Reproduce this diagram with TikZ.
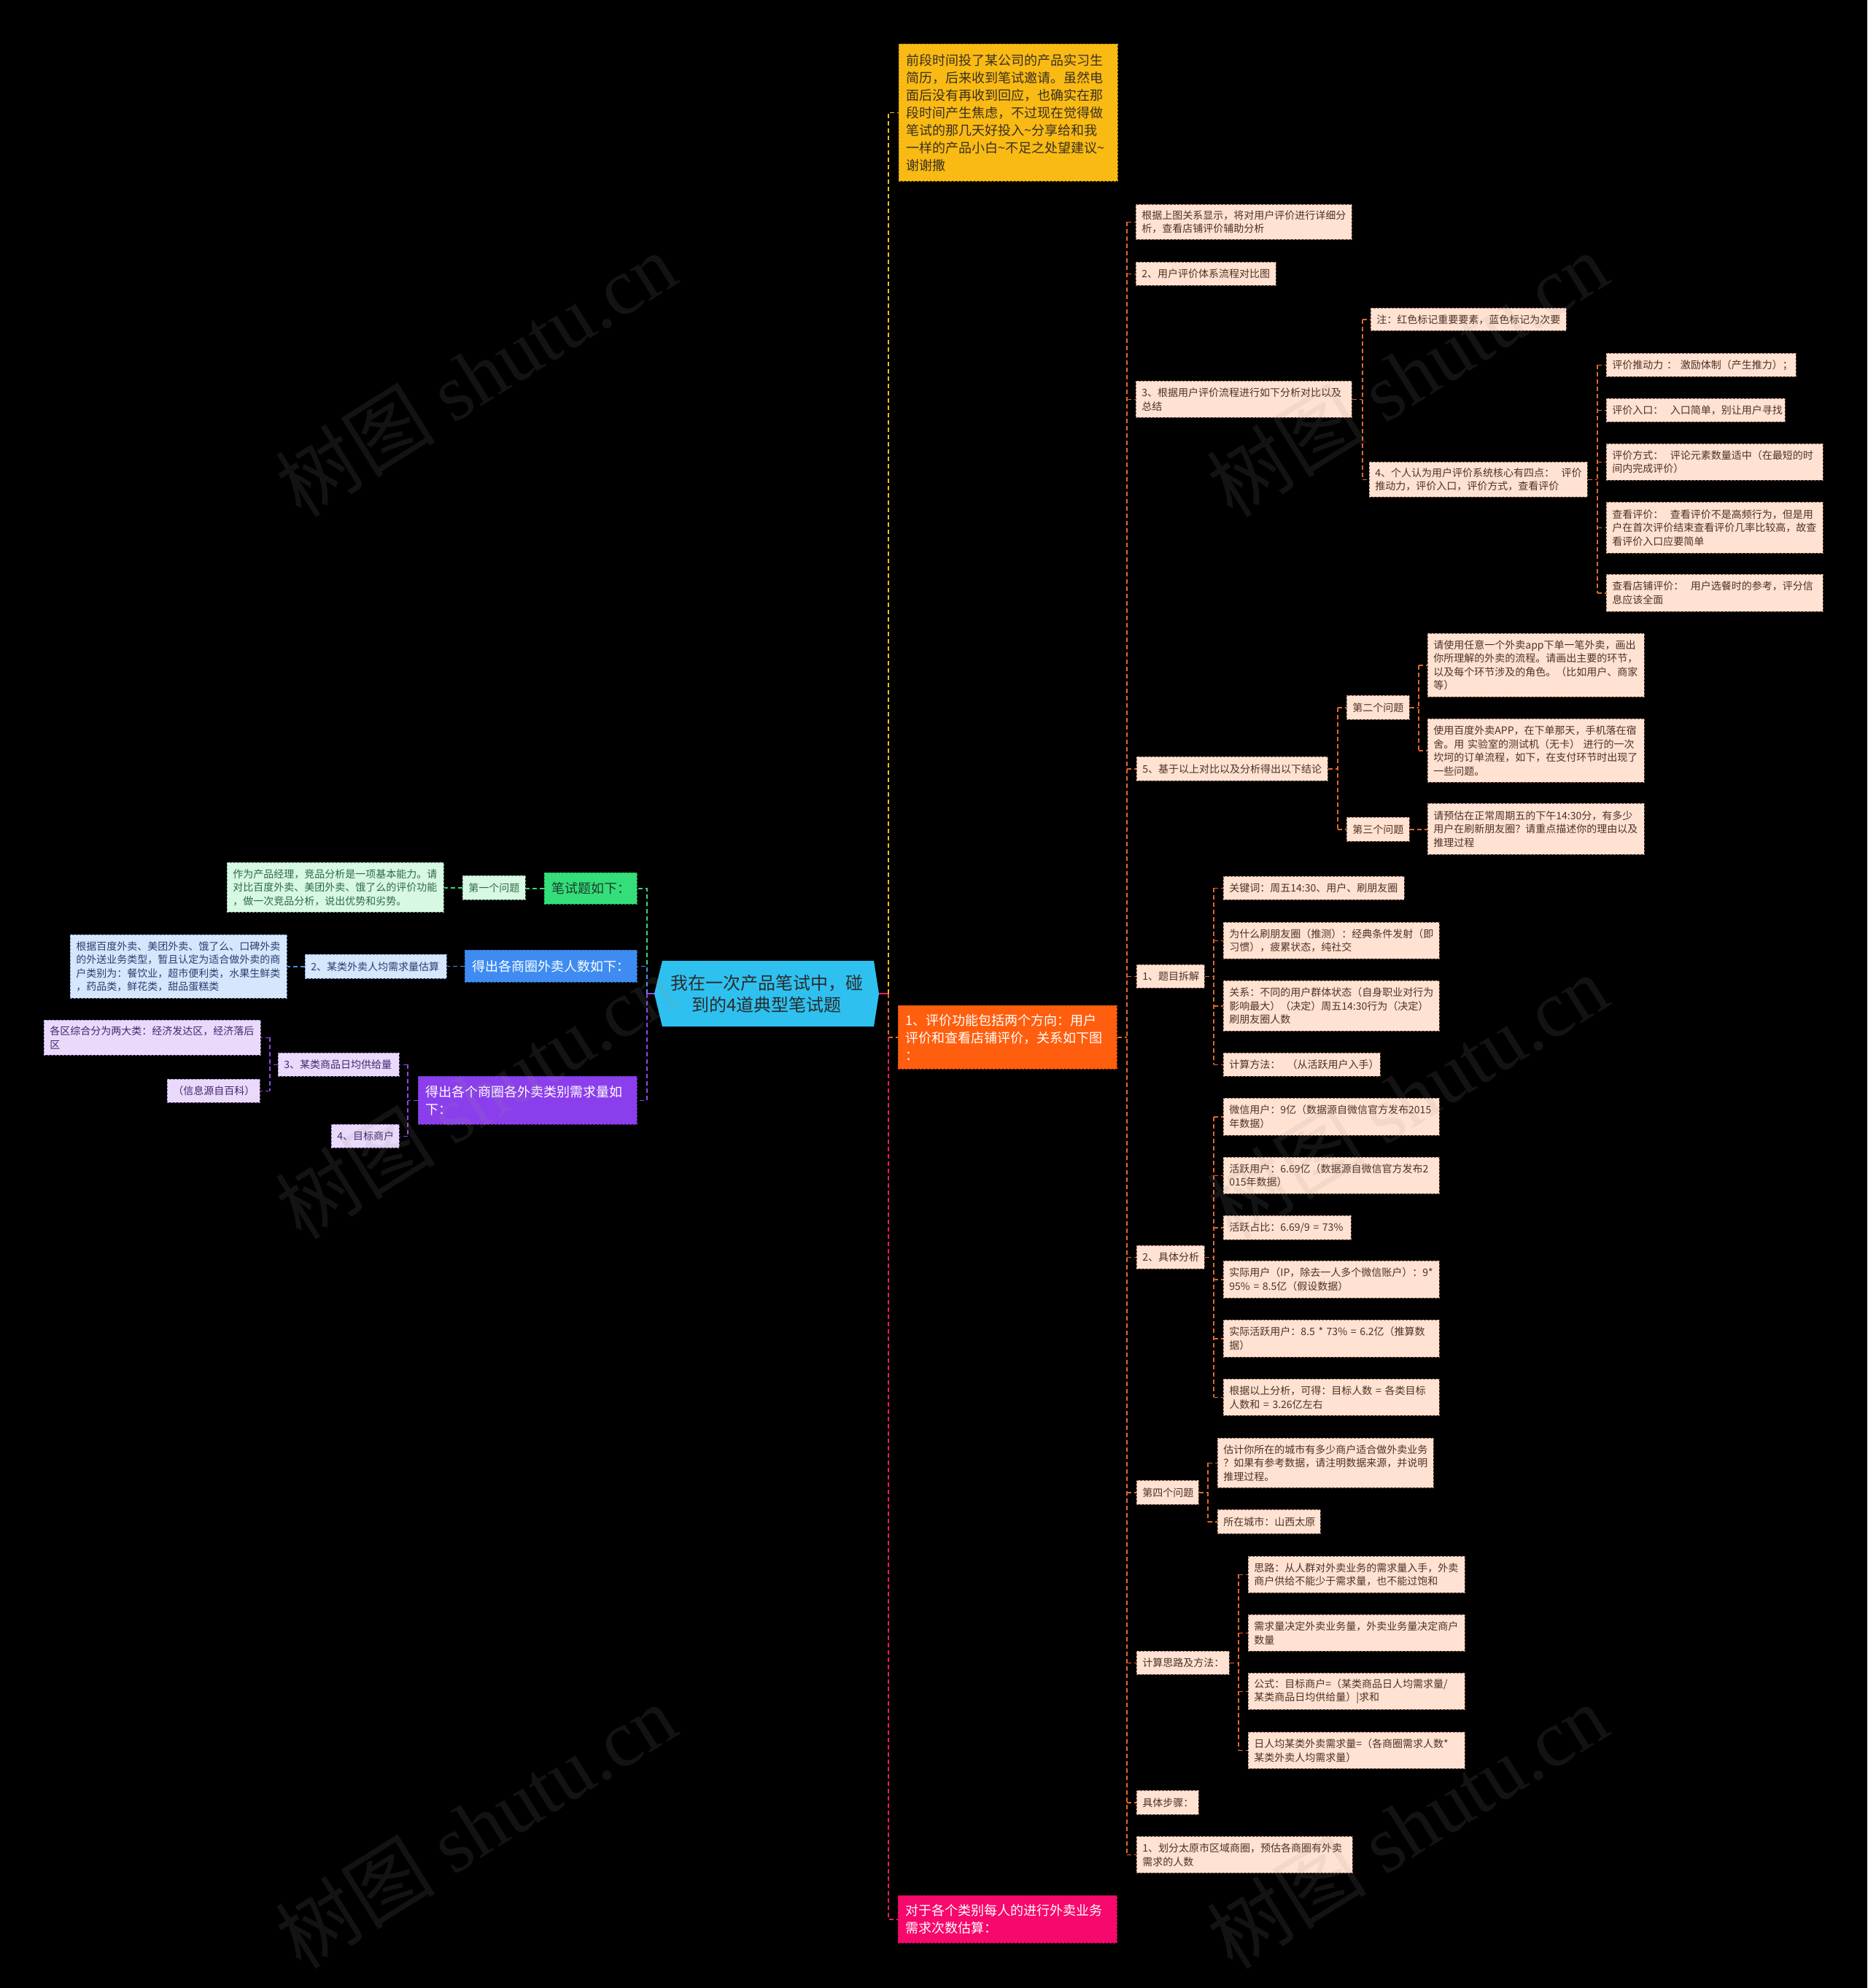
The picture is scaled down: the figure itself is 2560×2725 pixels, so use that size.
\documentclass[tikz,border=0pt]{standalone}
\usepackage{fontspec}
\newfontfamily\cjk{Noto Sans CJK SC}
\newfontfamily\wmlat{Liberation Serif}
\usetikzlibrary{calc}
\definecolor{rootc}{HTML}{2EC1F0}
\definecolor{roott}{HTML}{2B2B2B}
\definecolor{yel}{HTML}{F9BA14}
\definecolor{yelt}{HTML}{3A3020}
\definecolor{ora}{HTML}{FF5E0E}
\definecolor{pnk}{HTML}{F7086C}
\definecolor{grn}{HTML}{34DF7B}
\definecolor{grnt}{HTML}{1E3A28}
\definecolor{lgrn}{HTML}{D7F8E3}
\definecolor{lgrnt}{HTML}{2E6B47}
\definecolor{lgrnb}{HTML}{6F9F80}
\definecolor{blu}{HTML}{3E8CF2}
\definecolor{lblu}{HTML}{D5E6FD}
\definecolor{lblut}{HTML}{2A3F6E}
\definecolor{lblub}{HTML}{7090C0}
\definecolor{pur}{HTML}{8B3EEC}
\definecolor{lpur}{HTML}{E9DAFB}
\definecolor{lpurt}{HTML}{42276E}
\definecolor{lpurb}{HTML}{9070B0}
\definecolor{peach}{HTML}{FFE2D1}
\definecolor{ptext}{HTML}{4E3228}
\definecolor{pbord}{HTML}{8A6050}
\definecolor{oline}{HTML}{E0682C}
\definecolor{gline}{HTML}{36D67A}
\definecolor{bline}{HTML}{4C8EE6}
\definecolor{uline}{HTML}{8F48E6}
\definecolor{yline}{HTML}{F0C020}
\definecolor{kline}{HTML}{EC1A70}
\definecolor{wm}{gray}{0.6}
\begin{document}
\begin{tikzpicture}[x=1pt,y=-1pt,
  base/.style={rectangle, anchor=north west, align=left, inner ysep=0pt,
    line width=0.8pt, dash pattern=on 3pt off 2pt},
  small/.style={base, inner xsep=8pt, font=\cjk\fontsize{14}{18.5}\selectfont},
  pbox/.style={small, fill=peach, draw=pbord, text=ptext},
  gbox/.style={small, fill=lgrn, draw=lgrnb, text=lgrnt},
  bbox/.style={small, fill=lblu, draw=lblub, text=lblut},
  ubox/.style={small, fill=lpur, draw=lpurb, text=lpurt},
  big/.style={base, inner xsep=10pt, font=\cjk\fontsize{18}{24}\selectfont},
  con/.style={line width=1.5pt, dash pattern=on 6pt off 4pt},
  ocon/.style={con, draw=oline},
  gcon/.style={con, draw=gline},
  bcon/.style={con, draw=bline},
  ucon/.style={con, draw=uline},
  ycon/.style={con, draw=yline},
  kcon/.style={con, draw=kline}]
\useasboundingbox (0,0) rectangle (2560,2725);
\fill[black] (0,0) rectangle (2560,2725);

% trunk coordinates
\coordinate (LT) at (887,0);
\coordinate (PT) at (559,0);
\coordinate (P3T) at (370,0);
\coordinate (RT) at (1218,0);
\coordinate (OT) at (1545,0);
\coordinate (CT) at (1868,0);
\coordinate (C2T) at (2190,0);
\coordinate (DT) at (1834,0);
\coordinate (Q2T) at (1945,0);
\coordinate (ET) at (1664,0);
\coordinate (GT) at (1656,0);
\coordinate (HT) at (1698,0);

% root
\fill[rootc] (897,1362) -- (908,1317) -- (1198,1317) -- (1205,1362) -- (1198,1407) -- (908,1407) -- cycle;
\node[minimum width=308pt, minimum height=90pt, inner sep=0pt, align=center, text=roott,
  font=\cjk\fontsize{24}{30}\selectfont] (root) at (1051,1362) {我在一次产品笔试中，碰\\到的4道典型笔试题};

% ---------- left side ----------
\node[big, fill=grn, draw=grn!70!black, text=grnt, text width=107pt, minimum height=43pt] (G) at (746,1196) {笔试题如下：};
\node[gbox, text width=70pt, minimum height=33pt] (L1) at (634,1200) {第一个问题};
\node[gbox, text width=281pt, minimum height=68pt] (L1a) at (311,1182) {作为产品经理，竞品分析是一项基本能力。请\\对比百度外卖、美团外卖、饿了么的评价功能\\，做一次竞品分析，说出优势和劣势。};

\node[big, fill=blu, draw=blu!70!black, text=white, text width=216pt, minimum height=44pt] (B) at (637,1302) {得出各商圈外卖人数如下：};
\node[bbox, text width=178pt, minimum height=33pt] (L2) at (418,1308) {2、某类外卖人均需求量估算};
\node[bbox, text width=281pt, minimum height=87pt] (L2a) at (96,1281) {根据百度外卖、美团外卖、饿了么、口碑外卖\\的外送业务类型，暂且认定为适合做外卖的商\\户类别为：餐饮业，超市便利类，水果生鲜类\\，药品类，鲜花类，甜品蛋糕类};

\node[big, fill=pur, draw=pur!70!black, text=white, text width=280pt, minimum height=66pt] (U) at (573,1475) {得出各个商圈各外卖类别需求量如\\下：};
\node[ubox, text width=150pt, minimum height=32pt] (L3) at (381,1443) {3、某类商品日均供给量};
\node[ubox, text width=281pt, minimum height=48pt] (L3a) at (60,1398) {各区综合分为两大类：经济发达区，经济落后\\区};
\node[ubox, text width=111pt, minimum height=32pt] (L3b) at (229,1479) {（信息源自百科）};
\node[ubox, text width=77pt, minimum height=32pt] (L4) at (454,1541) {4、目标商户};

% ---------- right level 1 ----------
\node[big, fill=yel, draw=yel!75!black, text=yelt, text width=280pt, minimum height=188pt] (Y) at (1232,60) {前段时间投了某公司的产品实习生\\简历，后来收到笔试邀请。虽然电\\面后没有再收到回应，也确实在那\\段时间产生焦虑，不过现在觉得做\\笔试的那几天好投入\textasciitilde 分享给和我\\一样的产品小白\textasciitilde 不足之处望建议\textasciitilde\\谢谢撒};
\node[big, fill=ora, draw=ora!75!black, text=white, text width=280pt, minimum height=87pt] (O) at (1231,1378) {1、评价功能包括两个方向：用户\\评价和查看店铺评价，关系如下图\\：};
\node[big, fill=pnk, draw=pnk!75!black, text=white, text width=280pt, minimum height=65pt] (P) at (1231,2598) {对于各个类别每人的进行外卖业务\\需求次数估算：};

% ---------- orange branch ----------
\node[pbox, text width=280pt, minimum height=48pt] (a) at (1557,280) {根据上图关系显示，将对用户评价进行详细分\\析，查看店铺评价辅助分析};
\node[pbox, text width=176pt, minimum height=32pt] (b) at (1557,359) {2、用户评价体系流程对比图};
\node[pbox, text width=280pt, minimum height=50pt] (c) at (1557,522) {3、根据用户评价流程进行如下分析对比以及\\总结};
\node[pbox, text width=252pt, minimum height=31pt] (c1) at (1879,422) {注：红色标记重要要素，蓝色标记为次要};
\node[pbox, text width=283pt, minimum height=48pt] (c2) at (1877,633) {4、个人认为用户评价系统核心有四点：~~评价\\推动力，评价入口，评价方式，查看评价};
\node[pbox, text width=244pt, minimum height=32pt] (k1) at (2202,484) {评价推动力~：~激励体制（产生推力）；};
\node[pbox, text width=229pt, minimum height=32pt] (k2) at (2202,546) {评价入口：~~入口简单，别让用户寻找};
\node[pbox, text width=281pt, minimum height=50pt] (k3) at (2202,608) {评价方式：~~评论元素数量适中（在最短的时\\间内完成评价）};
\node[pbox, text width=281pt, minimum height=70pt] (k4) at (2202,688) {查看评价：~~查看评价不是高频行为，但是用\\户在首次评价结束查看评价几率比较高，故查\\看评价入口应要简单};
\node[pbox, text width=281pt, minimum height=51pt] (k5) at (2202,787) {查看店铺评价：~~用户选餐时的参考，评分信\\息应该全面};

\node[pbox, text width=246pt, minimum height=33pt] (d) at (1558,1037) {5、基于以上对比以及分析得出以下结论};
\node[pbox, text width=70pt, minimum height=33pt] (q2) at (1846,953) {第二个问题};
\node[pbox, text width=70pt, minimum height=33pt] (q3) at (1846,1120) {第三个问题};
\node[pbox, text width=281pt, minimum height=87pt] (q2a) at (1957,868) {请使用任意一个外卖app下单一笔外卖，画出\\你所理解的外卖的流程。请画出主要的环节，\\以及每个环节涉及的角色。（比如用户、商家\\等）};
\node[pbox, text width=281pt, minimum height=87pt] (q2b) at (1957,985) {使用百度外卖APP，在下单那天，手机落在宿\\舍。用~实验室的测试机（无卡）~进行的一次\\坎坷的订单流程，如下，在支付环节时出现了\\一些问题。};
\node[pbox, text width=281pt, minimum height=70pt] (q3a) at (1957,1101) {请预估在正常周期五的下午14:30分，有多少\\用户在刷新朋友圈？请重点描述你的理由以及\\推理过程};

\node[pbox, text width=77pt, minimum height=32pt] (e) at (1558,1322) {1、题目拆解};
\node[pbox, text width=232pt, minimum height=32pt] (e1) at (1677,1201) {关键词：周五14:30、用户、刷朋友圈};
\node[pbox, text width=280pt, minimum height=50pt] (e2) at (1677,1264) {为什么刷朋友圈（推测）：经典条件发射（即\\习惯），疲累状态，纯社交};
\node[pbox, text width=280pt, minimum height=69pt] (e3) at (1677,1344) {关系：不同的用户群体状态（自身职业对行为\\影响最大）（决定）周五14:30行为（决定）\\刷朋友圈人数};
\node[pbox, text width=199pt, minimum height=32pt] (e4) at (1677,1443) {计算方法：~~（从活跃用户入手）};

\node[pbox, text width=77pt, minimum height=32pt] (f) at (1558,1707) {2、具体分析};
\node[pbox, text width=280pt, minimum height=51pt] (f1) at (1677,1505) {微信用户：9亿（数据源自微信官方发布2015\\年数据）};
\node[pbox, text width=280pt, minimum height=50pt] (f2) at (1677,1586) {活跃用户：6.69亿（数据源自微信官方发布2\\015年数据）};
\node[pbox, text width=159pt, minimum height=33pt] (f3) at (1677,1666) {活跃占比：6.69/9 = 73\%};
\node[pbox, text width=280pt, minimum height=51pt] (f4) at (1677,1728) {实际用户（IP，除去一人多个微信账户）：9*\\95\% = 8.5亿（假设数据）};
\node[pbox, text width=280pt, minimum height=51pt] (f5) at (1677,1809) {实际活跃用户：8.5 * 73\% = 6.2亿（推算数\\据）};
\node[pbox, text width=280pt, minimum height=50pt] (f6) at (1677,1890) {根据以上分析，可得：目标人数 = 各类目标\\人数和 = 3.26亿左右};

\node[pbox, text width=69pt, minimum height=33pt] (g) at (1558,2029) {第四个问题};
\node[pbox, text width=280pt, minimum height=68pt] (g1) at (1669,1971) {估计你所在的城市有多少商户适合做外卖业务\\？如果有参考数据，请注明数据来源，并说明\\推理过程。};
\node[pbox, text width=125pt, minimum height=33pt] (g2) at (1669,2069) {所在城市：山西太原};

\node[pbox, text width=111pt, minimum height=32pt] (h) at (1558,2263) {计算思路及方法：};
\node[pbox, text width=281pt, minimum height=50pt] (h1) at (1711,2133) {思路：从人群对外卖业务的需求量入手，外卖\\商户供给不能少于需求量，也不能过饱和};
\node[pbox, text width=281pt, minimum height=50pt] (h2) at (1711,2213) {需求量决定外卖业务量，外卖业务量决定商户\\数量};
\node[pbox, text width=281pt, minimum height=50pt] (h3) at (1711,2293) {公式：目标商户=（某类商品日人均需求量/\\某类商品日均供给量）|求和};
\node[pbox, text width=281pt, minimum height=50pt] (h4) at (1711,2374) {日人均某类外卖需求量=（各商圈需求人数*\\某类外卖人均需求量）};

\node[pbox, text width=69pt, minimum height=33pt] (i) at (1558,2454) {具体步骤：};
\node[pbox, text width=280pt, minimum height=50pt] (j) at (1558,2517) {1、划分太原市区域商圈，预估各商圈有外卖\\需求的人数};

% ---------- connectors: left ----------
\draw[line width=1.5pt, uline] (root.west) -- (LT |- root.west);
\draw[gcon] (LT |- root.west) -- (LT |- G.east) -- (G.east);
\draw[bcon] (LT |- root.west) -- (LT |- B.east) -- (B.east);
\draw[ucon] (LT |- root.west) -- (LT |- U.east) -- (U.east);
\draw[gcon] (G.west) -- (G.west -| L1.east);
\draw[gcon] (L1.west) -- (L1.west -| L1a.east);
\draw[bcon] (B.west) -- (B.west -| L2.east);
\draw[bcon] (L2.west) -- (L2.west -| L2a.east);
\draw[ucon] (U.west) -- (PT |- U.west);
\draw[ucon] (PT |- L3.east) -- (PT |- L4.east);
\draw[ucon] (PT |- L3.east) -- (L3.east);
\draw[ucon] (PT |- L4.east) -- (L4.east);
\draw[ucon] (L3.west) -- (P3T |- L3.west);
\draw[ucon] (P3T |- L3a.east) -- (P3T |- L3b.east);
\draw[ucon] (P3T |- L3a.east) -- (L3a.east);
\draw[ucon] (P3T |- L3b.east) -- (L3b.east);

% ---------- connectors: right ----------
\draw[line width=1.5pt, kline] (root.east) -- (RT |- root.east);
\draw[ycon] (RT |- root.east) -- (RT |- Y.west) -- (Y.west);
\draw[kcon] (RT |- root.east) -- (RT |- P.west) -- (P.west);
\draw[ocon] (RT |- root.east) -- (RT |- O.west) -- (O.west);

\draw[ocon] (O.east) -- (OT |- O.east);
\draw[ocon] (OT |- a.west) -- (OT |- j.west);
\foreach \n in {a,b,c,d,e,f,g,h,i,j} \draw[ocon] (OT |- \n.west) -- (\n.west);

\draw[ocon] (c.east) -- (CT |- c.east);
\draw[ocon] (CT |- c1.west) -- (CT |- c2.west);
\foreach \n in {c1,c2} \draw[ocon] (CT |- \n.west) -- (\n.west);

\draw[ocon] (c2.east) -- (C2T |- c2.east);
\draw[ocon] (C2T |- k1.west) -- (C2T |- k5.west);
\foreach \n in {k1,k2,k3,k4,k5} \draw[ocon] (C2T |- \n.west) -- (\n.west);

\draw[ocon] (d.east) -- (DT |- d.east);
\draw[ocon] (DT |- q2.west) -- (DT |- q3.west);
\foreach \n in {q2,q3} \draw[ocon] (DT |- \n.west) -- (\n.west);
\draw[ocon] (q2.east) -- (Q2T |- q2.east);
\draw[ocon] (Q2T |- q2a.west) -- (Q2T |- q2b.west);
\foreach \n in {q2a,q2b} \draw[ocon] (Q2T |- \n.west) -- (\n.west);
\draw[ocon] (q3.east) -- (q3.east -| q3a.west);

\draw[ocon] (e.east) -- (ET |- e.east);
\draw[ocon] (ET |- e1.west) -- (ET |- e4.west);
\foreach \n in {e1,e2,e3,e4} \draw[ocon] (ET |- \n.west) -- (\n.west);

\draw[ocon] (f.east) -- (ET |- f.east);
\draw[ocon] (ET |- f1.west) -- (ET |- f6.west);
\foreach \n in {f1,f2,f3,f4,f5,f6} \draw[ocon] (ET |- \n.west) -- (\n.west);

\draw[ocon] (g.east) -- (GT |- g.east);
\draw[ocon] (GT |- g1.west) -- (GT |- g2.west);
\foreach \n in {g1,g2} \draw[ocon] (GT |- \n.west) -- (\n.west);

\draw[ocon] (h.east) -- (HT |- h.east);
\draw[ocon] (HT |- h1.west) -- (HT |- h4.west);
\foreach \n in {h1,h2,h3,h4} \draw[ocon] (HT |- \n.west) -- (\n.west);

% ---------- watermarks ----------
\foreach \wx/\wy in {652/513, 1929/513, 652/1503, 1929/1503, 652/2503, 1929/2503}
  \node[rotate=32, text=wm, opacity=0.13, inner sep=0pt] at (\wx,\wy)
    {\cjk\fontsize{110}{110}\selectfont 树图 \wmlat shutu.cn};
\end{tikzpicture}
\end{document}
